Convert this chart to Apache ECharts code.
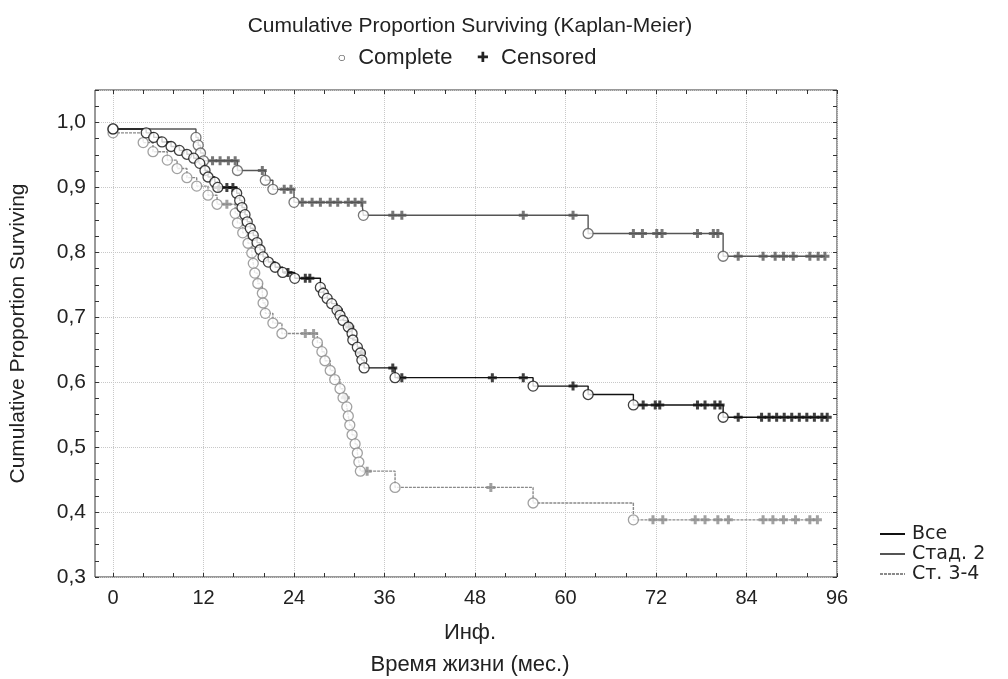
<!DOCTYPE html>
<html>
<head>
<meta charset="utf-8">
<title>Kaplan-Meier</title>
<script src="https://cdn.jsdelivr.net/npm/echarts@6/dist/echarts.min.js"></script>
<style>
  html, body { margin: 0; padding: 0; background: #fff; }
  #main { width: 1008px; height: 679px; }
</style>
</head>
<body>
<div id="main"></div>
<script>
// --- data: [time (months), survival] ---
const allComplete = [[0,0.990],[4.4,0.984],[5.4,0.977],[6.5,0.970],[7.7,0.963],[8.8,0.957],[9.8,0.951],[10.7,0.945],
  [11.5,0.937],[12.2,0.926],[12.6,0.916],[13.5,0.908],[13.9,0.900],[16.4,0.891],[16.8,0.880],[17.1,0.869],[17.5,0.858],
  [17.8,0.847],[18.2,0.837],[18.6,0.826],[19.1,0.815],[19.5,0.804],[19.9,0.793],[20.6,0.785],[21.5,0.777],[22.5,0.769],
  [24.1,0.760],[27.5,0.746],[27.9,0.737],[28.4,0.729],[29.0,0.721],[29.7,0.711],[30.1,0.703],[30.5,0.695],[31.2,0.685],
  [31.7,0.675],[31.8,0.665],[32.4,0.654],[32.8,0.645],[33.0,0.634],[33.3,0.622],[37.4,0.607],[55.7,0.594],[63.0,0.581],
  [69.0,0.565],[80.9,0.546]];
const allCensored = [[14.0,0.900],[15.1,0.900],[15.9,0.900],[23.2,0.769],[25.5,0.760],[26.1,0.760],[29.9,0.711],[31.4,0.685],
  [32.9,0.645],[37.1,0.622],[38.3,0.607],[50.3,0.607],[54.4,0.607],[61.0,0.594],[70.3,0.565],[71.9,0.565],[72.5,0.565],
  [77.5,0.565],[78.5,0.565],[79.8,0.565],[80.5,0.565],[82.9,0.546],[86.0,0.546],[87.0,0.546],[88.0,0.546],[89.0,0.546],
  [90.0,0.546],[91.0,0.546],[92.0,0.546],[93.0,0.546],[94.0,0.546],[94.7,0.546]];

const st2Complete = [[0,0.990],[11.0,0.977],[11.3,0.965],[11.6,0.953],[12.0,0.941],[16.5,0.926],[20.2,0.911],[21.2,0.897],
  [24.0,0.877],[33.2,0.857],[63.0,0.829],[80.9,0.794]];
const st2Censored = [[13.2,0.941],[14.2,0.941],[15.3,0.941],[16.2,0.941],[19.8,0.926],[22.7,0.897],[23.6,0.897],
  [25.1,0.877],[26.4,0.877],[27.5,0.877],[28.8,0.877],[29.8,0.877],[31.2,0.877],[32.1,0.877],[33.0,0.877],
  [37.1,0.857],[38.3,0.857],[54.4,0.857],[61.0,0.857],[69.0,0.829],[70.2,0.829],[72.1,0.829],[72.8,0.829],
  [77.5,0.829],[79.6,0.829],[80.2,0.829],[82.9,0.794],[86.2,0.794],[87.8,0.794],[88.9,0.794],[90.2,0.794],
  [92.4,0.794],[93.5,0.794],[94.4,0.794]];

const st34Complete = [[0,0.984],[4.0,0.969],[5.3,0.955],[7.2,0.942],[8.5,0.929],[9.8,0.915],[11.1,0.902],[12.6,0.888],
  [13.8,0.874],[16.2,0.860],[16.5,0.845],[17.2,0.830],[17.9,0.814],[18.4,0.799],[18.6,0.783],[18.8,0.768],[19.2,0.752],
  [19.8,0.737],[19.9,0.722],[20.2,0.706],[21.2,0.691],[22.4,0.675],[27.1,0.661],[27.7,0.647],[28.1,0.633],[28.8,0.618],
  [29.4,0.604],[30.1,0.590],[30.5,0.576],[31.0,0.562],[31.2,0.548],[31.4,0.534],[31.7,0.519],[32.1,0.505],[32.4,0.491],
  [32.6,0.477],[32.8,0.463],[37.4,0.438],[55.7,0.414],[69.0,0.388]];
const st34Censored = [[15.1,0.874],[25.5,0.675],[26.6,0.675],[30.8,0.576],[33.7,0.463],[50.1,0.438],[71.6,0.388],
  [72.9,0.388],[77.2,0.388],[78.5,0.388],[80.2,0.388],[81.6,0.388],[86.2,0.388],[87.5,0.388],[88.9,0.388],
  [90.5,0.388],[92.4,0.388],[93.4,0.388]];

const groupNames = ['Все', 'Стад. 2', 'Ст. 3-4'];
const yTicks = { min: 0.3, max: 1.05, step: 0.1 };
const xTicks = { min: 0, max: 96, step: 12 };

const font = 'Liberation Sans, Arial, sans-serif';
const plusPath = 'path://M3,0H6V3H9V6H6V9H3V6H0V3H3Z';

function stepData(complete, censored) {
  return complete.concat(censored).sort((a, b) => a[0] - b[0]);
}

const groups = [
  { name: groupNames[2], complete: st34Complete, censored: st34Censored, color: '#8a8a8a', dash: [3, 1], z: 2 },
  { name: groupNames[1], complete: st2Complete, censored: st2Censored, color: '#555555', dash: 'solid', z: 3 },
  { name: groupNames[0], complete: allComplete, censored: allCensored, color: '#111111', dash: 'solid', z: 4 }
];

const series = [];
groups.forEach(g => {
  series.push({
    name: g.name, type: 'line', step: 'end', symbol: 'none',
    xAxisIndex: 1, yAxisIndex: 1, z: g.z,
    data: stepData(g.complete, g.censored),
    lineStyle: { color: g.color, width: 1.4, type: g.dash },
    itemStyle: { color: g.color }
  });
});
groups.forEach(g => {
  series.push({
    type: 'scatter', xAxisIndex: 1, yAxisIndex: 1, z: g.z + 5, clip: false,
    data: g.censored, symbol: plusPath, symbolSize: 9,
    itemStyle: { color: g.color }
  });
  series.push({
    type: 'scatter', xAxisIndex: 1, yAxisIndex: 1, z: g.z + 5, clip: false,
    data: g.complete, symbol: 'circle', symbolSize: 10,
    itemStyle: { color: '#fff', borderColor: g.color, borderWidth: 1.3 }
  });
});

const gridLine = { show: true, lineStyle: { color: '#c8c8c8', type: 'dotted', width: 1 } };
const tickIn = { show: true, inside: true, length: 4, lineStyle: { color: '#333' } };
const txt = (size) => ({ fontFamily: font, fontSize: size, fontWeight: 'normal', color: '#222' });

const chart = echarts.init(document.getElementById('main'));
chart.setOption({
  backgroundColor: '#fff',
  animation: false,
  title: [
    { text: 'Cumulative Proportion Surviving (Kaplan-Meier)', left: 465, top: 11, textAlign: 'center', textStyle: txt(21) },
    { text: '{o|○}  Complete    {p|✚}  Censored', left: 462, top: 42, textAlign: 'center',
      textStyle: Object.assign(txt(22), { rich: { o: { fontSize: 14, color: '#444' }, p: { fontSize: 14, color: '#222' } } }) },
    { text: 'Инф.', left: 465, top: 617, textAlign: 'center', textStyle: txt(22) },
    { text: 'Время жизни (мес.)', left: 465, top: 649, textAlign: 'center', textStyle: txt(22) }
  ],
  legend: {
    orient: 'vertical', left: 874, top: 519, itemWidth: 25, itemHeight: 2, itemGap: 0,
    data: groupNames,
    textStyle: { fontFamily: 'DejaVu Sans, sans-serif', fontSize: 19, lineHeight: 20, color: '#222', padding: [0, 0, 0, 2] }
  },
  grid: [
    { left: 94, right: 171, top: 90, bottom: 102, show: true, borderColor: '#333', borderWidth: 1 },
    { left: 113, right: 171, top: 90, bottom: 102 }
  ],
  xAxis: [
    { gridIndex: 0, type: 'value', min: 0, max: 1, show: false },
    { gridIndex: 1, type: 'value', position: 'bottom', min: xTicks.min, max: xTicks.max, interval: xTicks.step,
      axisLine: { show: false }, axisTick: tickIn,
      minorTick: { show: true, splitNumber: 3, length: 4, lineStyle: { color: '#333' } },
      splitLine: gridLine,
      axisLabel: Object.assign({ margin: 11 }, txt(20)) },
    { gridIndex: 1, type: 'value', position: 'top', min: xTicks.min, max: xTicks.max, interval: xTicks.step,
      axisLine: { show: false }, axisTick: tickIn,
      minorTick: { show: true, splitNumber: 3, length: 4, lineStyle: { color: '#333' } },
      splitLine: { show: false }, axisLabel: { show: false } }
  ],
  yAxis: [
    { gridIndex: 0, type: 'value', position: 'left', min: yTicks.min, max: yTicks.max, interval: yTicks.step,
      axisLine: { show: false }, axisTick: tickIn,
      minorTick: { show: true, splitNumber: 4, length: 4, lineStyle: { color: '#333' } },
      splitLine: gridLine,
      axisLabel: Object.assign({ margin: 9, showMaxLabel: false,
        formatter: v => v.toFixed(1).replace('.', ',') }, txt(21)),
      name: 'Cumulative Proportion Surviving', nameLocation: 'middle', nameGap: 66,
      nameTextStyle: txt(21) },
    { gridIndex: 1, type: 'value', min: yTicks.min, max: yTicks.max, show: false },
    { gridIndex: 0, type: 'value', position: 'right', min: yTicks.min, max: yTicks.max, interval: yTicks.step,
      axisLine: { show: false }, axisTick: tickIn,
      minorTick: { show: true, splitNumber: 4, length: 4, lineStyle: { color: '#333' } },
      splitLine: { show: false }, axisLabel: { show: false } }
  ],
  series: series
});
</script>
</body>
</html>
